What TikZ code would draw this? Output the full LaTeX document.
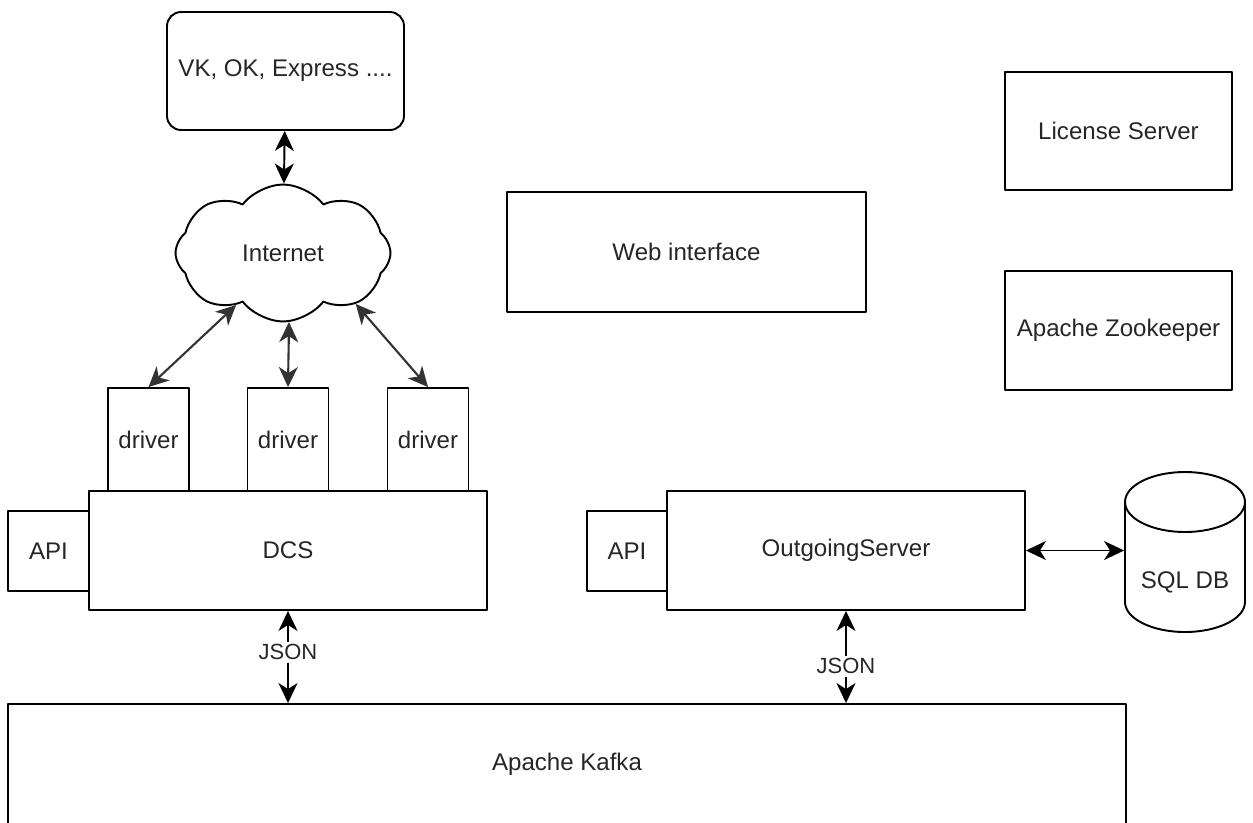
\documentclass[tikz,border=0pt]{standalone}
\usepackage{fontspec}
\setmainfont{Liberation Sans}
\usetikzlibrary{arrows.meta,shapes.symbols}

\begin{document}
\begin{tikzpicture}[x=0.02cm, y=-0.02cm,
	line width=1.1pt, line join=round,
	font=\fontsize{13.7}{16}\selectfont, text=black!85,
	box/.style={draw, rectangle, inner sep=0pt},
	link/.style={{Stealth[length=0.4cm,width=0.38cm,inset=0.12cm]}-{Stealth[length=0.4cm,width=0.38cm,inset=0.12cm]}},
	tag/.style={fill=white, font=\fontsize{12.5}{14}\selectfont, inner sep=1.5pt}]
	\useasboundingbox (0,0) rectangle (1253,822);
	% sources and internet
	\node[box, rounded corners=8pt, minimum width=4.74cm, minimum height=2.36cm] (vk) at (285.5,71) {VK, OK, Express ....};
	\node[draw, cloud, cloud puffs=8, cloud puff arc=105, aspect=1.6, inner sep=0pt, minimum width=4.3cm, minimum height=2.74cm] (net) at (283,253) {Internet};
	\draw[link] (vk) -- (net);
	% drivers and DCS
	\foreach \i/\x in {1/148.5, 2/288, 3/428}
		\node[box, minimum width=1.62cm, minimum height=2.08cm] (drv\i) at (\x,440) {driver};
	\node[box, fill=white, minimum width=7.96cm, minimum height=2.38cm] (dcs) at (288,550.5) {DCS};
	\node[box, minimum width=1.62cm, minimum height=1.6cm] (api1) at (48.5,551) {API};
	\draw[link, black!80, line width=1.2pt] (net.228) -- (drv1.north);
	\draw[link, black!80, line width=1.2pt] (net.275) -- (drv2.north);
	\draw[link, black!80, line width=1.2pt] (net.325) -- (drv3.north);
	% servers
	\node[box, minimum width=7.18cm, minimum height=2.4cm] (web) at (686.5,252) {Web interface};
	\node[box, minimum width=4.54cm, minimum height=2.36cm] (lic) at (1118.5,131) {License Server};
	\node[box, minimum width=4.54cm, minimum height=2.38cm] (zoo) at (1118.5,330.5) {Apache Zookeeper};
	\node[box, minimum width=7.16cm, minimum height=2.38cm] (out) at (846,550.5) {OutgoingServer};
	\node[box, minimum width=1.6cm, minimum height=1.6cm] (api2) at (627,551) {API};
	% database
	\node[inner sep=0pt, minimum width=2.4cm, minimum height=2cm] (sql) at (1185,582) {SQL DB};
	\draw (1125,502) -- (1125,602) arc[start angle=180, end angle=360, x radius=1.2cm, y radius=0.6cm] -- (1245,502);
	\draw (1185,502) ellipse [x radius=1.2cm, y radius=0.6cm];
	\draw[link] (out.east) -- (out.east -| sql.west);
	% kafka
	\node[box, minimum width=22.36cm, minimum height=2.4cm] (kafka) at (567,764) {Apache Kafka};
	\draw[link] (dcs) -- node[tag, pos=0.45]{JSON} (dcs |- kafka.north);
	\draw[link] (out) -- node[tag, pos=0.6]{JSON} (out |- kafka.north);
\end{tikzpicture}
\end{document}
